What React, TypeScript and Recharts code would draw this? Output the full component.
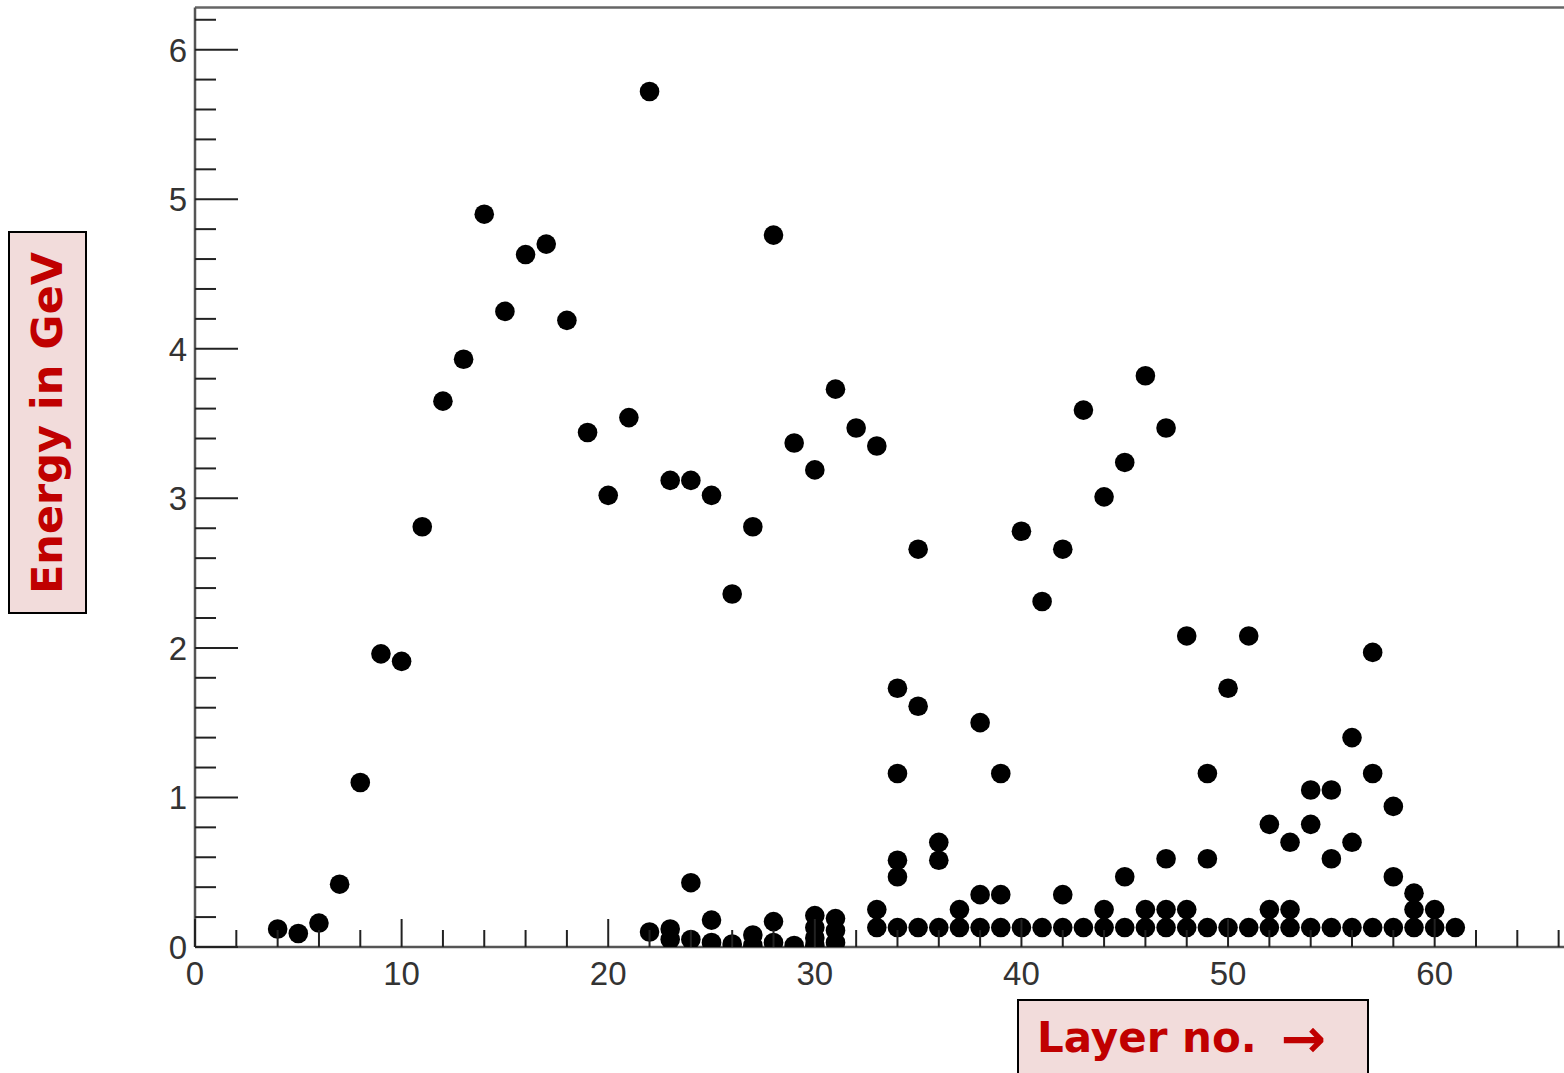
import React from 'react';
import { ScatterChart, Scatter, XAxis, YAxis, ReferenceLine } from 'recharts';

// Calorimeter layers and the highest energy deposit found in each one (GeV)
const layers = [
  4, 5, 6, 7, 8, 9, 10, 11, 12, 13, 14, 15, 16, 17, 18, 19, 20, 21, 22, 23,
  24, 25, 26, 27, 28, 29, 30, 31, 32, 33, 34, 35, 36, 37, 38, 39, 40, 41, 42,
  43, 44, 45, 46, 47, 48, 49, 50, 51, 52, 53, 54, 55, 56, 57, 58, 59, 60, 61,
];
const leadingEnergy = [
  0.12, 0.09, 0.16, 0.42, 1.10, 1.96, 1.91, 2.81, 3.65, 3.93, 4.90, 4.25, 4.63,
  4.70, 4.19, 3.44, 3.02, 3.54, 5.72, 3.12, 3.12, 3.02, 2.36, 2.81, 4.76, 3.37,
  3.19, 3.73, 3.47, 3.35, 1.73, 2.66, 0.70, 0.25, 1.50, 1.16, 2.78, 2.31, 2.66,
  3.59, 3.01, 3.24, 3.82, 3.47, 2.08, 1.16, 1.73, 2.08, 0.82, 0.70, 1.05, 1.05,
  1.40, 1.97, 0.94, 0.36, 0.25, 0.13,
];

// Further, weaker deposits in the same layers
const extraLayers = [
  22, 23, 23, 24, 24, 25, 25, 26, 27, 27, 28, 28, 29, 30, 30, 30, 30, 31, 31,
  31, 33, 33, 34, 34, 34, 34, 35, 35, 36, 36, 37, 38, 38, 39, 39, 40, 41, 42,
  42, 43, 44, 44, 45, 45, 46, 46, 47, 47, 47, 48, 48, 49, 49, 50, 51, 52, 52,
  53, 53, 54, 54, 55, 55, 56, 56, 57, 57, 58, 58, 59, 59, 60,
];
const extraEnergy = [
  0.10, 0.12, 0.05, 0.43, 0.05, 0.18, 0.03, 0.02, 0.08, 0.01, 0.17, 0.03, 0.01,
  0.21, 0.13, 0.06, 0.01, 0.19, 0.11, 0.03, 0.25, 0.13, 1.16, 0.58, 0.47, 0.13,
  1.61, 0.13, 0.58, 0.13, 0.13, 0.35, 0.13, 0.35, 0.13, 0.13, 0.13, 0.35, 0.13,
  0.13, 0.25, 0.13, 0.47, 0.13, 0.25, 0.13, 0.59, 0.25, 0.13, 0.25, 0.13, 0.59,
  0.13, 0.13, 0.13, 0.25, 0.13, 0.25, 0.13, 0.82, 0.13, 0.59, 0.13, 0.70, 0.13,
  1.16, 0.13, 0.47, 0.13, 0.25, 0.13, 0.13,
];

const xTicks = Array.from({ length: 34 }, (_, i) => i * 2);
const yTicks = Array.from({ length: 32 }, (_, i) => Math.round(i * 2) / 10);
const xMajor = [0, 10, 20, 30, 40, 50, 60];
const yMajor = [0, 1, 2, 3, 4, 5, 6];

const X_MAX = 66.26;
const Y_MAX = 6.282;

const hits = [
  ...layers.map((layer, i) => ({ layer, energy: leadingEnergy[i] })),
  ...extraLayers.map((layer, i) => ({ layer, energy: extraEnergy[i] })),
];

const numberFont = '"Liberation Sans", Arial, Helvetica, sans-serif';
const titleFont = '"Comic Sans MS", "DejaVu Sans", sans-serif';

const XTick = (props: any) => {
  const { x, y, payload } = props;
  const v = payload.value;
  const major = xMajor.includes(v);
  return (
    <g>
      <line x1={x} x2={x} y1={y} y2={y - (major ? 28 : 17)} stroke="#222" strokeWidth={2} />
      {major && (
        <text x={x} y={y + 38} textAnchor="middle" fontSize={33} fill="#333" fontFamily={numberFont}>
          {v}
        </text>
      )}
    </g>
  );
};

const YTick = (props: any) => {
  const { x, y, payload } = props;
  const v = payload.value;
  const major = yMajor.some((m) => Math.abs(m - v) < 1e-6);
  return (
    <g>
      <line x1={x} x2={x + (major ? 43 : 21)} y1={y} y2={y} stroke="#222" strokeWidth={2} />
      {major && (
        <text x={x - 8} y={y + 12} textAnchor="end" fontSize={33} fill="#333" fontFamily={numberFont}>
          {v}
        </text>
      )}
    </g>
  );
};

const Dot = (props: any) => <circle cx={props.cx} cy={props.cy} r={9.8} fill="#000" />;

const boxStyle: React.CSSProperties = {
  position: 'absolute',
  background: '#f2dcdb',
  border: '2px solid #000',
  boxSizing: 'border-box',
  color: '#c00000',
  fontFamily: titleFont,
  fontWeight: 'bold',
  fontSize: 42,
  display: 'flex',
  alignItems: 'center',
  justifyContent: 'center',
  whiteSpace: 'nowrap',
};

export default function App() {
  return (
    <div style={{ position: 'absolute', left: 0, top: 0, width: 1564, height: 1073, overflow: 'hidden', background: '#fff' }}>
      <ScatterChart width={1564} height={1073} margin={{ top: 7.5, right: 0, bottom: 0, left: 0 }}>
        <XAxis
          type="number"
          dataKey="layer"
          domain={[0, X_MAX]}
          allowDataOverflow
          ticks={xTicks}
          interval={0}
          height={126}
          tickSize={0}
          tickMargin={0}
          tickLine={false}
          tick={<XTick />}
          axisLine={{ stroke: '#555', strokeWidth: 2.5 }}
        />
        <YAxis
          type="number"
          dataKey="energy"
          domain={[0, Y_MAX]}
          allowDataOverflow
          ticks={yTicks}
          interval={0}
          width={195}
          tickSize={0}
          tickMargin={0}
          tickLine={false}
          tick={<YTick />}
          axisLine={{ stroke: '#555', strokeWidth: 2.5 }}
        />
        <ReferenceLine y={Y_MAX} stroke="#666" strokeWidth={2.5} />
        <Scatter data={hits} shape={<Dot />} isAnimationActive={false} />
      </ScatterChart>
      <div style={{ ...boxStyle, left: 8, top: 231, width: 79, height: 383 }}>
        <span style={{ transform: 'rotate(-90deg)', display: 'inline-block', fontSize: 43 }}>Energy in GeV</span>
      </div>
      <div
        style={{
          ...boxStyle,
          left: 1017,
          top: 999,
          width: 352,
          height: 84,
          alignItems: 'flex-start',
          justifyContent: 'flex-start',
          paddingLeft: 18,
          paddingTop: 12,
        }}
      >
        <span>Layer no.</span>
        <span style={{ fontSize: 54, lineHeight: '52px', marginLeft: 24 }}>→</span>
      </div>
    </div>
  );
}
